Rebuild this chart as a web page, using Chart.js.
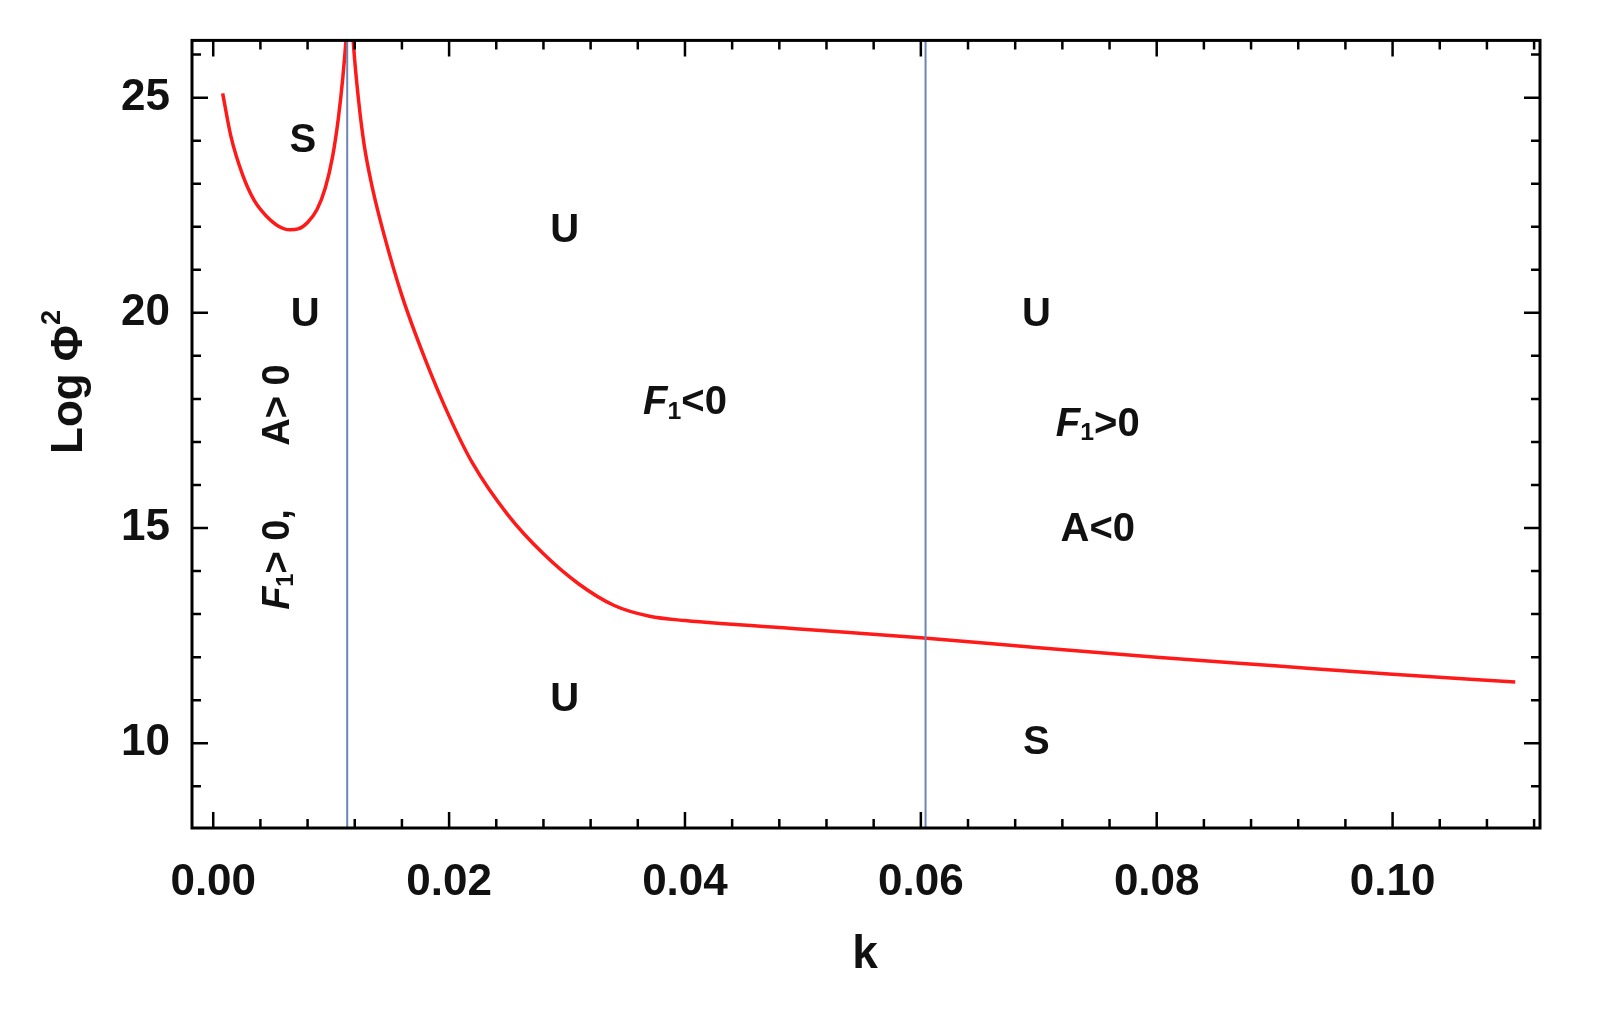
<!DOCTYPE html>
<html><head><meta charset="utf-8">
<script src="https://cdn.jsdelivr.net/npm/chart.js@4"></script>
<style>html,body{margin:0;padding:0;background:#fff}#wrap{width:1612px;height:1028px}</style>
</head><body><div id="wrap"><canvas id="c"></canvas></div>
<script>
const leftK = [0.0008,0.0015,0.0025,0.0035,0.0045,0.0055,0.0065,0.0072,0.0080,0.0088,0.0095,0.0101,0.0106,0.0110,0.0113,0.0115];
const leftY = [25.1,24.1,23.2,22.6,22.25,22.02,21.93,21.95,22.1,22.4,22.9,23.6,24.5,25.5,26.5,27.4];
const rightK = [0.0116,0.0119,0.0123,0.0128,0.0135,0.0145,0.0160,0.0180,0.0200,0.0220,0.0250,0.0280,0.0310,0.0340,0.0370,0.0400,0.0500,0.0600,0.0700,0.0800,0.0900,0.1000,0.1104];
const rightY = [27.6,26.2,25.0,23.9,22.9,21.8,20.4,18.9,17.6,16.5,15.3,14.4,13.7,13.2,12.95,12.85,12.65,12.45,12.22,12.0,11.8,11.6,11.42];
const vLines = [0.01136, 0.0604];
const labels = [
 {t:"S",k:0.0076,y:24.0},{t:"U",k:0.0078,y:19.95},
 {t:"U",k:0.0298,y:21.9},{t:"U",k:0.0298,y:11.0},
 {t:"F1<0",k:0.0400,y:17.9},{t:"U",k:0.0698,y:19.95},
 {t:"F1>0",k:0.0750,y:17.4},{t:"A<0",k:0.0750,y:14.95},{t:"S",k:0.0698,y:10.0},
 {t:"F1> 0,      A> 0",k:0.0055,y:15.95,rot:true}
];
const FONT = '"Liberation Sans", Arial, sans-serif';
function drawRich(ctx, txt, x, y, size){
  const parts=[];
  if(txt.startsWith("F1")){parts.push({s:"F",f:`italic bold ${size}px ${FONT}`,dy:0});parts.push({s:"1",f:`bold ${size*0.62}px ${FONT}`,dy:size*0.22});parts.push({s:txt.slice(2),f:`bold ${size}px ${FONT}`,dy:0});}
  else parts.push({s:txt,f:`bold ${size}px ${FONT}`,dy:0});
  let w=0; parts.forEach(p=>{ctx.font=p.f;p.w=ctx.measureText(p.s).width;w+=p.w;});
  let cx=x-w/2;
  ctx.textBaseline='middle';ctx.textAlign='left';
  parts.forEach(p=>{ctx.font=p.f;ctx.fillText(p.s,cx,y+p.dy);cx+=p.w;});
}
const deco = {
  id:'deco',
  afterDatasetsDraw(chart){
    const {ctx,chartArea:a,scales:{x,y}}=chart;
    ctx.save();
    ctx.strokeStyle='#6a85b6';ctx.lineWidth=2;
    vLines.forEach(v=>{const px=x.getPixelForValue(v);ctx.beginPath();ctx.moveTo(px,a.top);ctx.lineTo(px,a.bottom);ctx.stroke();});
    ctx.strokeStyle='#000';ctx.lineWidth=3;ctx.strokeRect(a.left,a.top,a.right-a.left,a.bottom-a.top);
    ctx.lineWidth=2.5;
    for(let i=0;i<=28;i++){const v=i*0.004;const px=x.getPixelForValue(v);if(px>a.right)break;const L=(i%5===0)?16:9;
      ctx.beginPath();ctx.moveTo(px,a.bottom);ctx.lineTo(px,a.bottom-L);ctx.moveTo(px,a.top);ctx.lineTo(px,a.top+L);ctx.stroke();}
    for(let v=9;v<=26;v++){const py=y.getPixelForValue(v);const L=(v%5===0)?16:9;
      ctx.beginPath();ctx.moveTo(a.left,py);ctx.lineTo(a.left+L,py);ctx.moveTo(a.right,py);ctx.lineTo(a.right-L,py);ctx.stroke();}
    ctx.fillStyle='#111';
    labels.forEach(l=>{const px=x.getPixelForValue(l.k),py=y.getPixelForValue(l.y);
      if(l.rot){ctx.save();ctx.translate(px,py);ctx.rotate(-Math.PI/2);drawRich(ctx,l.t,0,0,38);ctx.restore();}
      else drawRich(ctx,l.t,px,py,40);});
    ctx.restore();
  },
  afterDraw(chart){
    const ctx=chart.ctx;ctx.save();ctx.fillStyle='#111';ctx.textAlign='center';ctx.textBaseline='middle';
    ctx.font=`bold 46px ${FONT}`;ctx.fillText('k',865,955);
    ctx.translate(70,382);ctx.rotate(-Math.PI/2);
    ctx.font=`bold 44px ${FONT}`;const w1=ctx.measureText('Log Φ').width;ctx.font=`bold 27px ${FONT}`;const w2=ctx.measureText('2').width;
    ctx.textAlign='left';ctx.font=`bold 44px ${FONT}`;ctx.fillText('Log Φ',-(w1+w2)/2,0);ctx.font=`bold 27px ${FONT}`;ctx.fillText('2',-(w1+w2)/2+w1,-17);
    ctx.restore();
  }
};
const toPts=(ks,ys)=>ks.map((k,i)=>({x:k,y:ys[i]}));
new Chart(document.getElementById('c'),{
  type:'scatter',
  data:{datasets:[
    {data:toPts(leftK,leftY),showLine:true,borderColor:'#ff1a1a',borderWidth:3.5,pointRadius:0,cubicInterpolationMode:'monotone'},
    {data:toPts(rightK,rightY),showLine:true,borderColor:'#ff1a1a',borderWidth:3.5,pointRadius:0,cubicInterpolationMode:'monotone'}
  ]},
  options:{responsive:true,maintainAspectRatio:false,animation:false,
    layout:{padding:{top:30,right:72,left:0,bottom:0}},
    plugins:{legend:{display:false},tooltip:{enabled:false}},
    scales:{
      x:{type:'linear',min:-0.0018,max:0.1125,grid:{display:false},border:{display:false},
        afterBuildTicks(s){s.ticks=[0,0.02,0.04,0.06,0.08,0.10].map(v=>({value:v}));},
        afterFit(s){s.height=200;},
        ticks:{font:{family:FONT,size:44,weight:'bold'},color:'#111',padding:20,maxRotation:0,callback:v=>v.toFixed(2)}},
      y:{min:8.03,max:26.33,grid:{display:false},border:{display:false},
        afterBuildTicks(s){s.ticks=[10,15,20,25].map(v=>({value:v}));},
        afterFit(s){s.width=192;},
        ticks:{font:{family:FONT,size:44,weight:'bold'},color:'#111',padding:14}}
    }},
  plugins:[deco]
});
</script></body></html>
